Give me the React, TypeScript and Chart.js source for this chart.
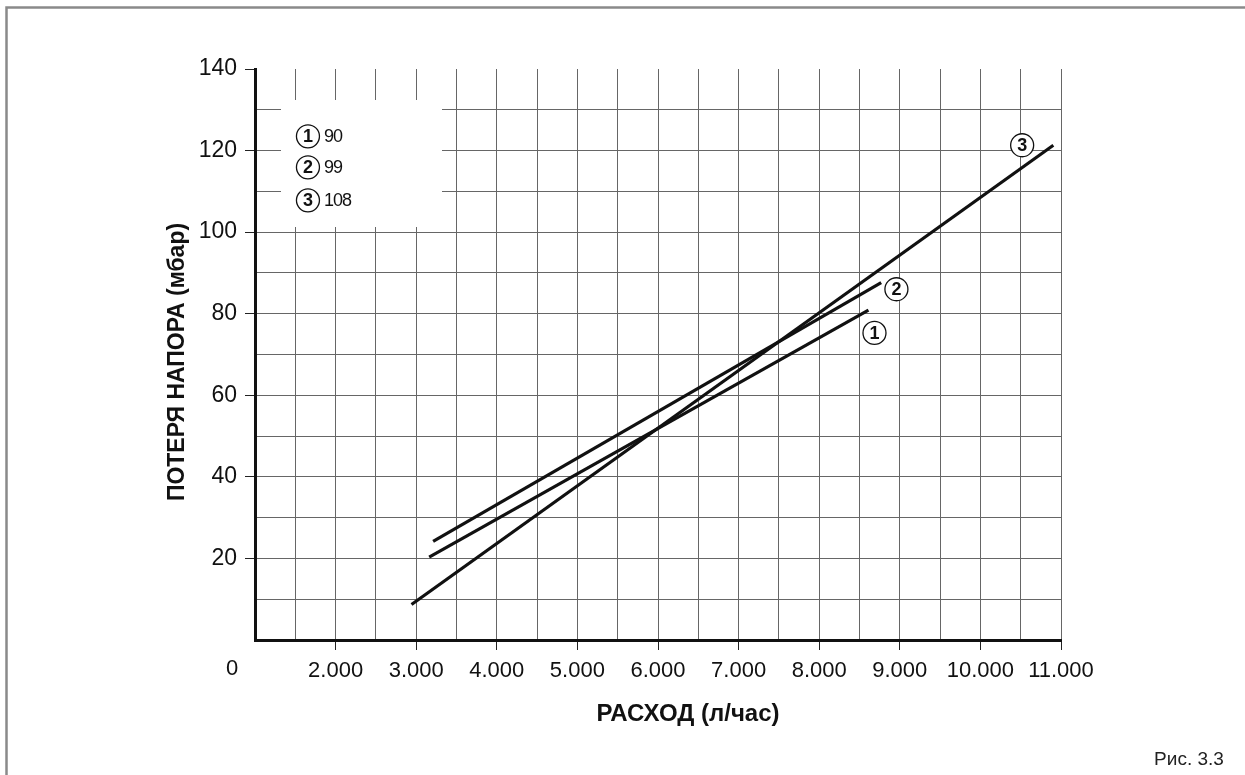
import { useEffect, useRef } from 'react';
import { Chart, registerables } from 'chart.js';

Chart.register(...registerables);

const FONT = '"Liberation Sans", Arial, Helvetica, sans-serif';

// Series (flow l/h -> pressure loss mbar)
const seriesNames = ['90', '99', '108'];
const series1X = [3161, 8611];
const series1Y = [20.3, 80.9];
const series2X = [3210, 8769];
const series2Y = [24.2, 87.6];
const series3X = [2942, 10905];
const series3Y = [8.7, 121.3];

// Circled markers next to the curves (data coordinates)
const markerNums = ['1', '2', '3'];
const markerX = [8686, 8958, 10518];
const markerY = [75.3, 86.0, 121.3];

// Legend anchor (data coordinates)
const legendX = 1657;
const legendY = [123.5, 115.9, 107.8];

const xMin = 1000;
const xMax = 11000;
const xStep = 500;
const yMin = 0;
const yMax = 140;
const yStep = 10;

const xTitle = 'РАСХОД (л/час)';
const yTitle = 'ПОТЕРЯ НАПОРА (мбар)';
const figLabel = 'Рис. 3.3';
const originLabel = '0';

function toPts(xs: number[], ys: number[]) {
  return xs.map((x, i) => ({ x, y: ys[i] }));
}

function circled(ctx: CanvasRenderingContext2D, cx: number, cy: number, t: string) {
  ctx.save();
  ctx.beginPath();
  ctx.arc(cx, cy, 11.5, 0, Math.PI * 2);
  ctx.lineWidth = 1.3;
  ctx.strokeStyle = '#111';
  ctx.fillStyle = '#fff';
  ctx.fill();
  ctx.stroke();
  ctx.fillStyle = '#111';
  ctx.font = `bold 18px ${FONT}`;
  ctx.textAlign = 'center';
  ctx.textBaseline = 'middle';
  ctx.fillText(t, cx, cy + 1);
  ctx.restore();
}

const overlay = {
  id: 'overlay',
  beforeDatasetsDraw(chart: any) {
    const ctx = chart.ctx as CanvasRenderingContext2D;
    ctx.save();
    ctx.fillStyle = '#fff';
    ctx.fillRect(281, 100, 161, 127);
    ctx.restore();
  },
  afterDraw(chart: any) {
    const ctx = chart.ctx as CanvasRenderingContext2D;
    const xs = chart.scales.x;
    const ys = chart.scales.y;
    ctx.save();
    // frame
    ctx.strokeStyle = '#8a8a8a';
    ctx.lineWidth = 2.5;
    ctx.beginPath();
    ctx.moveTo(6.5, 775);
    ctx.lineTo(6.5, 7.5);
    ctx.lineTo(1245, 7.5);
    ctx.stroke();

    ctx.fillStyle = '#111';
    // origin label
    ctx.font = `22px ${FONT}`;
    ctx.textAlign = 'center';
    ctx.textBaseline = 'middle';
    ctx.fillText(originLabel, 232, 669);

    // axis titles
    ctx.font = `bold 24px ${FONT}`;
    ctx.fillText(xTitle, 688, 714);
    ctx.save();
    ctx.translate(178, 362);
    ctx.rotate(-Math.PI / 2);
    ctx.font = `bold 23px ${FONT}`;
    ctx.fillText(yTitle, 0, 0);
    ctx.restore();

    // legend
    legendY.forEach((ly, i) => {
      const cx = xs.getPixelForValue(legendX);
      const cy = ys.getPixelForValue(ly);
      circled(ctx, cx, cy, markerNums[i]);
      ctx.fillStyle = '#111';
      ctx.font = `18px ${FONT}`;
      ctx.textAlign = 'left';
      ctx.textBaseline = 'middle';
      (ctx as any).letterSpacing = '-1px';
      ctx.fillText(seriesNames[i], cx + 16, cy + 1);
      (ctx as any).letterSpacing = '0px';
    });

    // markers at curve ends
    markerX.forEach((mx, i) => {
      circled(ctx, xs.getPixelForValue(mx), ys.getPixelForValue(markerY[i]), markerNums[i]);
    });

    // figure label
    ctx.fillStyle = '#222';
    ctx.font = `19px ${FONT}`;
    ctx.textAlign = 'center';
    ctx.textBaseline = 'middle';
    ctx.fillText(figLabel, 1189, 760);
    ctx.restore();
  },
};

export default function App() {
  const ref = useRef<HTMLCanvasElement>(null);
  useEffect(() => {
    if (!ref.current) return;
    const lineStyle = {
      showLine: true,
      borderColor: '#111',
      backgroundColor: '#111',
      borderWidth: 3.2,
      pointRadius: 0,
      fill: false,
      tension: 0,
    };
    const chart = new Chart(ref.current, {
      type: 'scatter',
      data: {
        datasets: [
          { label: seriesNames[0], data: toPts(series1X, series1Y), ...lineStyle },
          { label: seriesNames[1], data: toPts(series2X, series2Y), ...lineStyle },
          { label: seriesNames[2], data: toPts(series3X, series3Y), ...lineStyle },
        ],
      },
      options: {
        responsive: false,
        animation: false,
        devicePixelRatio: 1,
        layout: { padding: { left: 0, top: 69, right: 184, bottom: 0 } },
        plugins: { legend: { display: false }, tooltip: { enabled: false }, title: { display: false } },
        scales: {
          x: {
            type: 'linear',
            min: xMin,
            max: xMax,
            afterFit: (s: any) => { s.height = 135; },
            afterBuildTicks: (s: any) => {
              const t = [];
              for (let v = xMin; v <= xMax; v += xStep) t.push({ value: v });
              s.ticks = t;
            },
            ticks: {
              autoSkip: false,
              maxRotation: 0,
              padding: 8,
              color: '#111',
              font: { family: FONT, size: 22 },
              callback: (v: any) => (v % 1000 === 0 && v > xMin ? `${v / 1000}.000` : ''),
            },
            grid: {
              color: (c: any) => (c.tick && c.tick.value === xMin ? 'rgba(0,0,0,0)' : '#666'),
              tickColor: (c: any) => (c.tick && c.tick.value % 1000 === 0 && c.tick.value > xMin ? '#222' : 'rgba(0,0,0,0)'),
              lineWidth: 1,
              tickLength: 10,
            },
            border: { color: '#111', width: 3 },
          },
          y: {
            type: 'linear',
            min: yMin,
            max: yMax,
            afterFit: (s: any) => { s.width = 255; },
            afterBuildTicks: (s: any) => {
              const t = [];
              for (let v = yMin; v <= yMax; v += yStep) t.push({ value: v });
              s.ticks = t;
            },
            ticks: {
              autoSkip: false,
              padding: 8,
              color: '#111',
              font: { family: FONT, size: 23 },
              callback: (v: any) => (v % 20 === 0 && v > 0 ? `${v}` : ''),
            },
            grid: {
              color: (c: any) => (c.tick && (c.tick.value === yMax || c.tick.value === yMin) ? 'rgba(0,0,0,0)' : '#666'),
              tickColor: (c: any) => (c.tick && c.tick.value % 20 === 0 && c.tick.value > 0 ? '#222' : 'rgba(0,0,0,0)'),
              lineWidth: 1,
              tickLength: 10,
            },
            border: { color: '#111', width: 3 },
          },
        },
      },
      plugins: [overlay],
    } as any);
    return () => chart.destroy();
  }, []);
  return (
    <div style={{ position: 'fixed', left: 0, top: 0, width: 1245, height: 775, background: '#fff' }}>
      <canvas ref={ref} width={1245} height={775} style={{ width: 1245, height: 775, display: 'block' }} />
    </div>
  );
}
